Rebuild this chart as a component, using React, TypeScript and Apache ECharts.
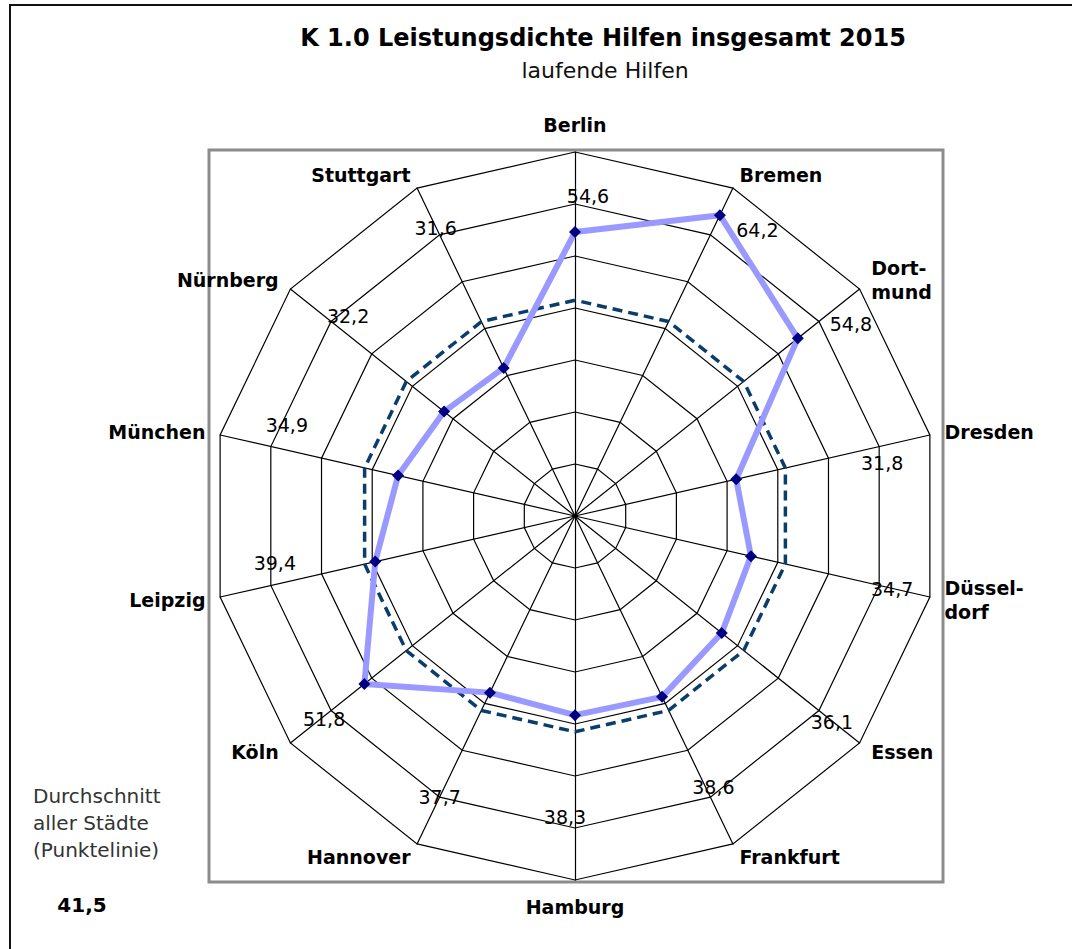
import React, { useEffect, useRef } from "react";
import * as echarts from "echarts";

// ---- data ----
const cities = [
  "Berlin", "Bremen", "Dort-\nmund", "Dresden", "Düssel-\ndorf", "Essen", "Frankfurt",
  "Hamburg", "Hannover", "Köln", "Leipzig", "München", "Nürnberg", "Stuttgart",
];
const values = [54.6, 64.2, 54.8, 31.8, 34.7, 36.1, 38.6, 38.3, 37.7, 51.8, 39.4, 34.9, 32.2, 31.6];
const average = 41.5;
const axisMin = 0;
const axisMax = 70;
const axisSplits = 7;
const titleText = "K 1.0 Leistungsdichte Hilfen insgesamt 2015";
const subtitleText = "laufende Hilfen";
const noteText = "Durchschnitt\naller Städte\n(Punktelinie)";

// ---- layout (label placement, not data) ----
const labelRing = 60;
const labelOffsets: number[][] = [
  [13, -8], [47, -5], [32, 3], [3, 16], [13, 4], [13, 11], [3, -10],
  [-10, -11], [0, 0], [-7, 8], [4, -22], [16, -22], [17, -5], [-4, -7],
];

const fmt = (v: number) => v.toFixed(1).replace(".", ",");
const FONT = "DejaVu Sans";

// ECharts radar places indicators counter-clockwise; the reference runs clockwise
const order = cities.map((_, i) => (i === 0 ? 0 : cities.length - i));
const toChart = (arr: any[]) => order.map((i) => arr[i]);

export default function App() {
  const ref = useRef<HTMLDivElement>(null);
  useEffect(() => {
    if (!ref.current) return;
    const chart = echarts.init(ref.current, undefined, { renderer: "svg" });

    const labelSeries = cities.map((_, i) => ({
      type: "radar",
      silent: true,
      z: 5,
      symbol: "circle",
      symbolSize: 1,
      itemStyle: { color: "rgba(0,0,0,0)" },
      lineStyle: { opacity: 0, width: 0 },
      data: [
        {
          value: order.map((k) => (k === i ? labelRing : 0)),
          label: {
            show: true,
            position: "inside",
            offset: labelOffsets[i],
            color: "#000",
            fontFamily: FONT,
            fontSize: 19,
            formatter: (p: any) => (p.value > 0 ? fmt(values[i]) : ""),
          },
        },
      ],
    }));

    chart.setOption({
      animation: false,
      backgroundColor: "#fff",
      radar: {
        center: [575, 516],
        radius: 364,
        startAngle: 90,
        shape: "polygon",
        splitNumber: axisSplits,
        indicator: toChart(cities).map((name: string) => ({ name, min: axisMin, max: axisMax })),
        nameGap: 15,
        axisName: {
          color: "#000",
          fontFamily: FONT,
          fontSize: 19,
          fontWeight: "bold",
          lineHeight: 24,
        },
        axisLine: { lineStyle: { color: "#000", width: 1.2 } },
        splitLine: { lineStyle: { color: "#000", width: 1.2 } },
        splitArea: { show: false },
        axisTick: { show: false },
        axisLabel: { show: false },
      },
      series: [
        {
          type: "radar",
          silent: true,
          z: 3,
          symbol: "none",
          lineStyle: { color: "#0B3D6B", width: 3.5, type: [10, 6] },
          data: [{ value: toChart(cities.map(() => average)) }],
        },
        {
          type: "radar",
          silent: true,
          z: 4,
          symbol: "diamond",
          symbolSize: 12,
          itemStyle: { color: "#000080" },
          lineStyle: { color: "#9999FF", width: 6 },
          data: [{ value: toChart(values) }],
        },
        ...labelSeries,
      ],
      graphic: [
        {
          type: "polyline",
          z: -10,
          shape: { points: [[10, 949], [10, 5], [1072, 5]] },
          style: { stroke: "#111", lineWidth: 2, fill: null },
        },
        {
          type: "rect",
          z: -10,
          shape: { x: 209, y: 150, width: 734, height: 732 },
          style: { stroke: "#8c8c8c", lineWidth: 3, fill: null },
        },
        {
          type: "text",
          x: 603,
          y: 38,
          style: {
            text: titleText,
            fontFamily: FONT,
            fontSize: 24,
            fontWeight: "bold",
            fill: "#000",
            align: "center",
            verticalAlign: "middle",
          },
        },
        {
          type: "text",
          x: 605,
          y: 70,
          style: {
            text: subtitleText,
            fontFamily: FONT,
            fontSize: 22,
            fill: "#111",
            align: "center",
            verticalAlign: "middle",
          },
        },
        {
          type: "text",
          x: 33,
          y: 782,
          style: {
            text: noteText,
            fontFamily: FONT,
            fontSize: 20,
            lineHeight: 27,
            fill: "#333",
            align: "left",
            verticalAlign: "top",
          },
        },
        {
          type: "text",
          x: 82,
          y: 905,
          style: {
            text: fmt(average),
            fontFamily: FONT,
            fontSize: 20,
            fontWeight: "bold",
            fill: "#000",
            align: "center",
            verticalAlign: "middle",
          },
        },
      ],
    });
    return () => chart.dispose();
  }, []);
  return (
    <div
      ref={ref}
      style={{ position: "fixed", left: 0, top: 0, width: 1072, height: 949 }}
    />
  );
}
